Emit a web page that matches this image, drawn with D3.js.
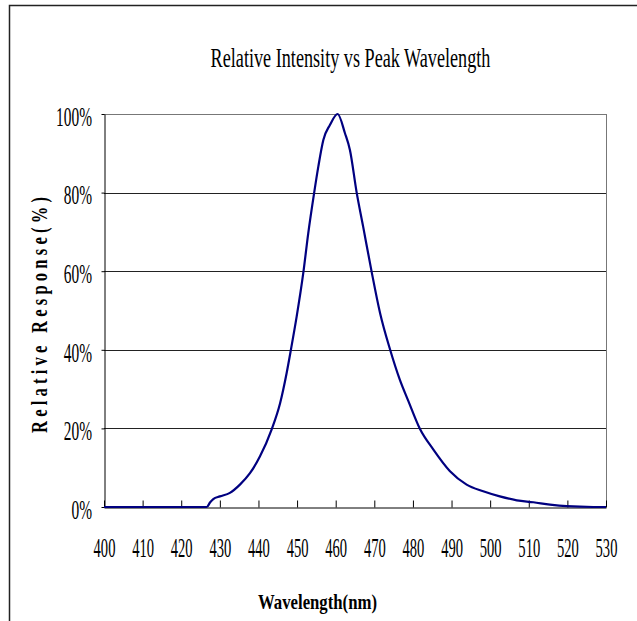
<!DOCTYPE html>
<html>
<head>
<meta charset="utf-8">
<script src="https://cdn.jsdelivr.net/npm/d3@7"></script>
<style>
  body { margin: 0; background: #fff; }
  text { font-family: "Liberation Serif", "Times New Roman", serif; fill: #000; }
</style>
</head>
<body>
<svg id="chart" width="637" height="621"></svg>
<script>
// spectrum (nm, % of peak)
const wavelength = [400, 426.6, 427.5, 428.3, 430, 432.6, 435.2, 437.8, 440.4, 443.4, 445.6, 447.3, 448.4, 449.9,
  451.6, 452.9, 454.4, 455.5, 456.8, 458.5, 460.5, 462.4, 463.7, 465.4, 467.1, 469.3, 471.5, 474.1, 476.6,
  478.8, 481.8, 485.3, 489.6, 493.9, 498.2, 502.5, 506.9, 511.2, 515.5, 519.8, 526.7, 530];
const response = [0, 0, 1.2, 2.0, 2.7, 3.6, 5.7, 8.6, 12.9, 19.7, 26.4, 34.1, 40, 48.5,
  59.5, 69.7, 79.8, 86.6, 93.4, 97.2, 100, 95.1, 90.8, 80.2, 71.4, 59.9, 49.3, 40, 32.4,
  27.0, 19.9, 14.6, 9.1, 5.7, 4.0, 2.7, 1.7, 1.2, 0.6, 0.2, 0, 0];
const xTicks = [400, 410, 420, 430, 440, 450, 460, 470, 480, 490, 500, 510, 520, 530];
const yTicks = [0, 20, 40, 60, 80, 100];

const chartTitle = "Relative Intensity vs Peak Wavelength";
const xTitle = "Wavelength(nm)";
const yTitle = "Relative Response(%)";

const svg = d3.select("#chart");
const plot = { left: 104, right: 606, top: 114, bottom: 507 };

const x = d3.scaleLinear().domain([400, 530]).range([plot.left, plot.right]);
const y = d3.scaleLinear().domain([0, 100]).range([plot.bottom, plot.top]);

// outer frame (only top and left edges show)
svg.append("path")
  .attr("d", `M9.5,621V5.5H637`)
  .attr("fill", "none")
  .attr("stroke", "#222")
  .attr("stroke-width", 1.5);

// squeeze a text horizontally so it takes the given width
function squeeze(sel, w, x0, y0) {
  const n = sel.node().getComputedTextLength();
  sel.attr("transform", `translate(${x0},${y0}) scale(${w / n},1)`);
}

// horizontal grid
svg.append("g")
  .selectAll("line")
  .data(yTicks.filter(d => d > 0))
  .join("line")
  .attr("x1", plot.left)
  .attr("x2", plot.right)
  .attr("y1", d => Math.round(y(d)) + 0.5)
  .attr("y2", d => Math.round(y(d)) + 0.5)
  .attr("stroke", d => d === 100 ? "#777" : "#222")
  .attr("stroke-width", 1);

// right border of plot
svg.append("line")
  .attr("x1", plot.right + 0.5).attr("x2", plot.right + 0.5)
  .attr("y1", plot.top).attr("y2", plot.bottom)
  .attr("stroke", "#777");

// x axis, ticks pointing up into the plot
const xAxis = svg.append("g")
  .attr("transform", `translate(0,${plot.bottom + 0.5})`)
  .call(d3.axisBottom(x).tickValues(xTicks).tickSizeInner(-7).tickSizeOuter(0).tickFormat(d3.format("d")));
xAxis.selectAll("path, line").attr("stroke", "#000");
xAxis.selectAll("text")
  .attr("y", 50)
  .attr("dy", null)
  .style("font-size", "28px")
  .attr("transform", "scale(0.52,1)");

// y axis
const yAxis = svg.append("g")
  .attr("transform", `translate(${plot.left + 0.5},0)`)
  .call(d3.axisLeft(y).tickValues(yTicks).tickSizeInner(3).tickSizeOuter(0).tickFormat(d => d + "%"));
yAxis.selectAll("path, line").attr("stroke", "#000");
yAxis.selectAll("text")
  .attr("x", null)
  .attr("dy", "0.4em")
  .style("font-size", "28px")
  .attr("transform", "translate(-12.5,0) scale(0.55,1)");

// spectrum curve
const line = d3.line()
  .x((d, i) => x(wavelength[i]))
  .y(d => y(d))
  .curve(d3.curveMonotoneX);

svg.append("path")
  .datum(response)
  .attr("d", line)
  .attr("fill", "none")
  .attr("stroke", "#000080")
  .attr("stroke-width", 2.2)
  .attr("stroke-linejoin", "round");

// titles
const t = svg.append("text")
  .attr("text-anchor", "middle")
  .style("font-size", "27px")
  .text(chartTitle);
squeeze(t, 280, 350.5, 66.5);

const xt = svg.append("text")
  .attr("text-anchor", "middle")
  .style("font-size", "22px")
  .style("font-weight", "bold")
  .text(xTitle);
squeeze(xt, 119, 317.5, 608.5);

svg.append("text")
  .attr("text-anchor", "middle")
  .style("font-size", "23px")
  .style("font-weight", "bold")
  .attr("textLength", 236 / 0.72)
  .attr("lengthAdjust", "spacing")
  .attr("transform", "translate(47,315) rotate(-90) scale(0.72,1)")
  .text(yTitle);
</script>
</body>
</html>
